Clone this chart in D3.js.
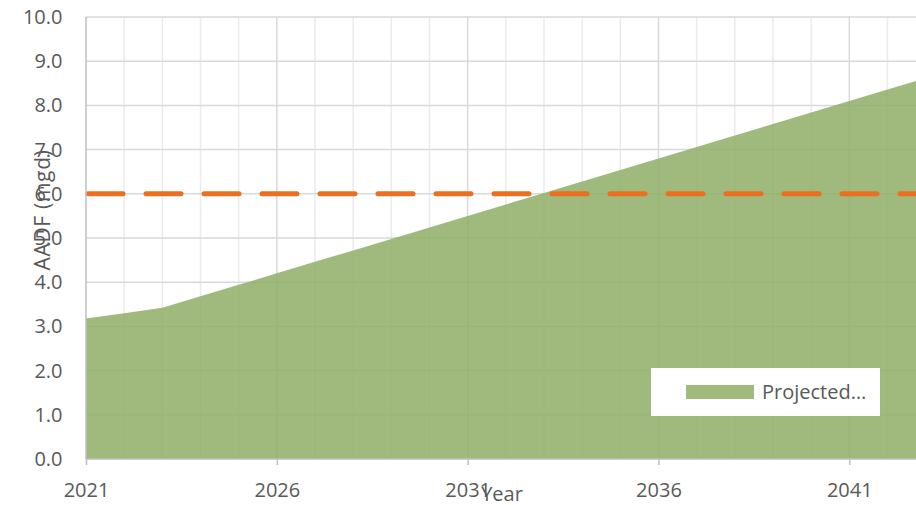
<!DOCTYPE html>
<html>
<head>
<meta charset="utf-8">
<script src="https://cdn.jsdelivr.net/npm/d3@7"></script>
<style>
  html, body { margin: 0; padding: 0; background: #fff; }
  svg { display: block; }
  text { font-family: "Open Sans", "Liberation Sans", sans-serif; fill: #595959; }
</style>
</head>
<body>
<svg id="chart" width="916" height="505"></svg>
<script>
// Projected average annual daily flow, by year
const years = [2021, 2022, 2023, 2024, 2025, 2026, 2027, 2028, 2029, 2030, 2031, 2032,
               2033, 2034, 2035, 2036, 2037, 2038, 2039, 2040, 2041, 2042, 2043];
const projected = [3.18, 3.30, 3.42, 3.68, 3.94, 4.20, 4.46, 4.72, 4.98, 5.24, 5.50, 5.76,
                   6.02, 6.28, 6.54, 6.80, 7.06, 7.32, 7.58, 7.84, 8.10, 8.36, 8.62];
// Capacity reference level (mgd)
const capacity = 6.0;

const yTicks = [0, 1, 2, 3, 4, 5, 6, 7, 8, 9, 10];
const xMajor = [2021, 2026, 2031, 2036, 2041];
const xMinor = [2022, 2023, 2024, 2025, 2027, 2028, 2029, 2030, 2032, 2033, 2034, 2035,
                2037, 2038, 2039, 2040, 2042];
const seriesName = "Projected…";
const xTitle = "Year";
const yTitle = "AADF (mgd)";

const svg = d3.select("#chart");
const W = 916;

const x = d3.scaleLinear().domain([2021, 2041]).range([86, 849.3]);
const y = d3.scaleLinear().domain([0, 10]).range([459, 17]);
const plotRight = W + 40;

// Gridlines
const grid = svg.append("g");
grid.selectAll(".vminor").data(xMinor).join("line")
  .attr("x1", d => x(d)).attr("x2", d => x(d))
  .attr("y1", y(10)).attr("y2", y(0))
  .attr("stroke", "#ebebeb").attr("stroke-width", 1.5);
grid.selectAll(".vmajor").data(xMajor.slice(1)).join("line")
  .attr("x1", d => x(d)).attr("x2", d => x(d))
  .attr("y1", y(10)).attr("y2", y(0))
  .attr("stroke", "#d9d9d9").attr("stroke-width", 1.5);
grid.selectAll(".hgrid").data(yTicks.slice(1)).join("line")
  .attr("x1", x(2021)).attr("x2", plotRight)
  .attr("y1", d => y(d)).attr("y2", d => y(d))
  .attr("stroke", "#d9d9d9").attr("stroke-width", 1.5);

// Projected flow area
const pts = years.map((yr, i) => ({ yr, v: projected[i] }));
const area = d3.area()
  .x(d => x(d.yr))
  .y0(y(0))
  .y1(d => y(d.v));
svg.append("path")
  .datum(pts)
  .attr("d", area)
  .attr("fill", "#8fad66")
  .attr("fill-opacity", 0.85);

// Capacity line
svg.append("line")
  .attr("x1", x(2021) + 2).attr("x2", plotRight)
  .attr("y1", y(capacity)).attr("y2", y(capacity))
  .attr("stroke", "#ec6f1f")
  .attr("stroke-width", 5)
  .attr("stroke-linecap", "round")
  .attr("stroke-dasharray", "35,23");

// Axes
const axisColor = "#bfbfbf";
svg.append("line")
  .attr("x1", x(2021)).attr("x2", x(2021))
  .attr("y1", y(10)).attr("y2", y(0))
  .attr("stroke", axisColor).attr("stroke-width", 1.5);
svg.append("line")
  .attr("x1", x(2021)).attr("x2", plotRight)
  .attr("y1", y(0)).attr("y2", y(0))
  .attr("stroke", axisColor).attr("stroke-width", 1.5);

const xAxis = d3.axisBottom(x).tickValues(xMajor).tickFormat(d3.format("d")).tickSize(6);
const gx = svg.append("g").attr("transform", `translate(0,${y(0)})`).call(xAxis);
gx.select(".domain").remove();
gx.selectAll(".tick line").attr("stroke", axisColor).attr("stroke-width", 1.5);
gx.selectAll(".tick text")
  .attr("y", 38).attr("dy", 0)
  .attr("font-size", 20).attr("fill", "#595959")
  .style("font-family", "'Open Sans', sans-serif");

const yAxis = d3.axisLeft(y).tickValues(yTicks).tickFormat(d3.format(".1f"))
  .tickSize(0).tickPadding(23.5);
const gy = svg.append("g").attr("transform", `translate(${x(2021)},0)`).call(yAxis);
gy.select(".domain").remove();
gy.selectAll(".tick text").attr("font-size", 20).attr("fill", "#595959")
  .style("font-family", "'Open Sans', sans-serif");

// Axis titles
svg.append("text")
  .attr("x", 502).attr("y", 501)
  .attr("text-anchor", "middle")
  .attr("font-size", 20)
  .text(xTitle);
svg.append("text")
  .attr("transform", `translate(50,210) rotate(-90)`)
  .attr("text-anchor", "middle")
  .attr("font-size", 21)
  .attr("letter-spacing", 0.7)
  .text(yTitle);

// Legend
const lg = svg.append("g").attr("transform", "translate(651,368)");
lg.append("rect").attr("width", 229).attr("height", 48).attr("fill", "#fff");
lg.append("rect").attr("x", 35).attr("y", 17).attr("width", 68).attr("height", 14)
  .attr("fill", "#8fad66").attr("fill-opacity", 0.85);
lg.append("text").attr("x", 111).attr("y", 31).attr("font-size", 20).text(seriesName);
</script>
</body>
</html>
